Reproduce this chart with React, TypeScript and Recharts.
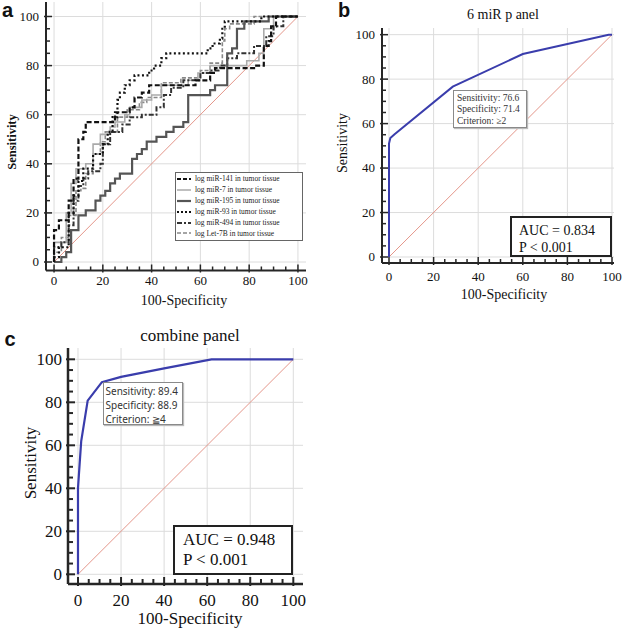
import React from "react";
import { LineChart, Line, XAxis, YAxis, CartesianGrid } from "recharts";

// ROC points: [100-specificity, sensitivity]; panel a curves are step curves
const miR141 = [[0, 0], [0, 13], [2, 17], [6, 25], [8, 34], [10, 50], [12, 53], [13, 57], [25, 61], [31, 63], [33, 67], [36, 69], [39, 72], [58, 74], [64, 77], [66, 79], [82, 80], [86, 88], [88, 90], [89, 96], [91, 100], [100, 100]];
const miR7 = [[0, 0], [0, 8], [5, 20], [7, 32], [9, 38], [13, 40], [16, 48], [19, 52], [23, 55], [25, 57], [29, 60], [31, 63], [36, 66], [40, 68], [44, 72], [55, 74], [59, 77], [64, 80], [79, 82], [84, 85], [86, 95], [90, 100], [100, 100]];
const miR195 = [[0, 0], [3, 2], [5, 4], [7, 13], [10, 19], [13, 21], [17, 25], [19, 27], [21, 29], [23, 32], [25, 34], [27, 36], [32, 42], [34, 44], [36, 46], [38, 49], [42, 51], [46, 53], [49, 55], [53, 57], [55, 68], [64, 70], [66, 72], [71, 85], [73, 87], [75, 95], [78, 98], [88, 100], [100, 100]];
const miR93 = [[0, 0], [0, 2], [2, 6], [6, 20], [8, 27], [10, 33], [12, 38], [16, 44], [20, 48], [22, 53], [24, 59], [26, 66], [27, 69], [29, 72], [31, 74], [33, 76], [39, 78], [41, 80], [44, 83], [46, 85], [63, 87], [65, 89], [68, 91], [69, 95], [70, 98], [85, 100], [100, 100]];
const miR494 = [[0, 0], [0, 6], [3, 8], [6, 15], [8, 25], [10, 31], [12, 34], [14, 37], [19, 40], [20, 48], [23, 53], [28, 56], [31, 59], [36, 60], [42, 63], [45, 68], [48, 71], [53, 74], [60, 77], [64, 78], [68, 80], [71, 83], [75, 85], [82, 88], [87, 92], [90, 96], [94, 100], [100, 100]];
const let7B = [[0, 0], [0, 4], [3, 10], [6, 19], [9, 29], [11, 30], [13, 36], [16, 44], [19, 49], [21, 53], [26, 59], [30, 62], [35, 65], [38, 67], [44, 73], [52, 75], [60, 78], [64, 81], [69, 90], [70, 95], [72, 97], [82, 100], [100, 100]];

const panel6miR = [[0, 0], [0, 51], [0.6, 53.5], [2.5, 55.2], [28.6, 76.6], [60, 91.3], [98.5, 100], [100, 100]];
const panelCombine = [[0, 0], [0, 40], [0.4, 46], [1.5, 62], [4.5, 80.8], [11.1, 89.4], [20, 91.8], [40, 95.8], [62, 100], [100, 100]];
const diagonal = [[0, 0], [100, 100]];

const ticks = [0, 5, 10, 15, 20, 25, 30, 35, 40, 45, 50, 55, 60, 65, 70, 75, 80, 85, 90, 95, 100];
const gridValues = [0, 20, 40, 60, 80, 100];

const legendItems = [
  { name: "log miR-141 in tumor tissue", color: "#111", width: 2.2, dash: "4 2" },
  { name: "log miR-7 in tumor tissue", color: "#aaa", width: 1.5, dash: "" },
  { name: "log miR-195 in tumor tissue", color: "#555", width: 2.2, dash: "" },
  { name: "log miR-93 in tumor tissue", color: "#111", width: 2.2, dash: "2 2" },
  { name: "log miR-494 in tumor tissue", color: "#333", width: 2, dash: "5 2 2 2" },
  { name: "log Let-7B in tumor tissue", color: "#888", width: 1.6, dash: "4 2" },
];

const SERIF = '"Liberation Serif", "Times New Roman", serif';
const SANS = '"Liberation Sans", Arial, sans-serif';
const AXIS = "#262626";
const DIAG = "#e4968a";
const BLUE = "#3a3dac";

const pts = (a: number[][]) => a.map(([x, y]) => ({ x, y }));

// ticks point inward; majors cross the axis line slightly
const makeXTick = (fs: number, gap: number, len: number, sw: number) => (props: any) => {
  const { x, y, payload } = props;
  const major = payload.value % 20 === 0;
  return (
    <g>
      <line x1={x} x2={x} y1={major ? y + 2 : y} y2={y - (major ? len + 2 : len)} stroke={AXIS} strokeWidth={sw} />
      {major && (
        <text x={x} y={y + gap} textAnchor="middle" fontSize={fs} fontFamily={SERIF} fill="#111">
          {payload.value}
        </text>
      )}
    </g>
  );
};

const makeYTick = (fs: number, gap: number, len: number, sw: number) => (props: any) => {
  const { x, y, payload } = props;
  const major = payload.value % 20 === 0;
  return (
    <g>
      <line x1={major ? x - 2 : x} x2={x + (major ? len + 2 : len)} y1={y} y2={y} stroke={AXIS} strokeWidth={sw} />
      {major && (
        <text x={x - gap} y={y + fs * 0.34} textAnchor="end" fontSize={fs} fontFamily={SERIF} fill="#111">
          {payload.value}
        </text>
      )}
    </g>
  );
};

const Txt = ({ x, y, size, rot, bold, family, children }: any) => (
  <div
    style={{
      position: "absolute",
      left: x,
      top: y,
      transform: `translate(-50%, -50%)${rot ? " rotate(-90deg)" : ""}`,
      fontSize: size,
      fontFamily: family || SERIF,
      fontWeight: bold ? "bold" : "normal",
      whiteSpace: "nowrap",
      lineHeight: 1,
      color: "#111",
    }}
  >
    {children}
  </div>
);

const Axes = ({ xDomain, yDomain, fs, xGap, yGap, len, sw, aw }: any) => (
  <>
    <CartesianGrid stroke="#dcdcdc" horizontalValues={gridValues} verticalValues={gridValues} />
    <XAxis
      type="number"
      dataKey="x"
      domain={xDomain}
      ticks={ticks}
      interval={0}
      allowDataOverflow
      tickSize={0}
      tickMargin={0}
      tickLine={false}
      height={30}
      axisLine={{ stroke: AXIS, strokeWidth: aw }}
      tick={makeXTick(fs, xGap, len, sw)}
    />
    <YAxis
      type="number"
      dataKey="y"
      domain={yDomain}
      ticks={ticks}
      interval={0}
      allowDataOverflow
      tickSize={0}
      tickMargin={0}
      tickLine={false}
      width={40}
      axisLine={{ stroke: AXIS, strokeWidth: aw }}
      tick={makeYTick(fs, yGap, len, sw)}
    />
  </>
);

const curve = (data: number[][], color: string, width: number, dash: string, type: any = "stepAfter") => (
  <Line
    data={pts(data)}
    dataKey="y"
    type={type}
    stroke={color}
    strokeWidth={width}
    strokeDasharray={dash || undefined}
    dot={false}
    activeDot={false}
    isAnimationActive={false}
  />
);

const App: React.FC = () => {
  return (
    <div style={{ position: "absolute", left: 0, top: 0, width: 624, height: 629, background: "#fff", fontFamily: SERIF }}>
      {/* panel a */}
      <div style={{ position: "absolute", left: 0, top: 0 }}>
        <LineChart width={310} height={310} margin={{ top: 2, right: 4, left: 6, bottom: 9.5 }}>
          {Axes({ xDomain: [-3.3, 103.3], yDomain: [-3.46, 105.9], fs: 13, xGap: 14, yGap: 7, len: 4, sw: 1.5, aw: 2 })}
          {curve(diagonal, DIAG, 1, "", "linear")}
          {curve(let7B, "#888", 1.6, "4 2")}
          {curve(miR7, "#aaa", 1.6, "")}
          {curve(miR494, "#333", 2, "5 2 2 2")}
          {curve(miR195, "#555", 2.2, "")}
          {curve(miR93, "#111", 2.2, "2 2.5")}
          {curve(miR141, "#111", 2.2, "5 2.5")}
        </LineChart>
      </div>
      <Txt x={7.5} y={9.5} size={20} bold family={SANS}>a</Txt>
      <Txt x={12} y={142} size={12.5} rot bold>Sensitivity</Txt>
      <Txt x={184} y={301} size={14}>100-Specificity</Txt>
      <div
        style={{
          position: "absolute", left: 175, top: 172, width: 128, height: 69, boxSizing: "border-box",
          border: "1px solid #666", background: "#fff", paddingTop: 0.5,
        }}
      >
        {legendItems.map((it) => (
          <div key={it.name} style={{ display: "flex", alignItems: "center", height: 10.9 }}>
            <svg width={14} height={6} style={{ marginLeft: 1, marginRight: 4 }}>
              <line x1={0} x2={14} y1={3} y2={3} stroke={it.color} strokeWidth={it.width} strokeDasharray={it.dash || undefined} />
            </svg>
            <span style={{ fontSize: 7.5, fontFamily: SERIF, color: "#222", whiteSpace: "nowrap" }}>{it.name}</span>
          </div>
        ))}
      </div>

      {/* panel b */}
      <div style={{ position: "absolute", left: 310, top: 0 }}>
        <LineChart width={314} height={310} margin={{ top: 28, right: 10, left: 32, bottom: 17 }}>
          {Axes({ xDomain: [-3.14, 100.9], yDomain: [-2.7, 103], fs: 13, xGap: 18, yGap: 7, len: 4, sw: 1.5, aw: 2 })}
          {curve(diagonal, DIAG, 1, "", "linear")}
          {curve(panel6miR, BLUE, 2, "", "linear")}
        </LineChart>
      </div>
      <Txt x={344} y={10} size={20} bold family={SANS}>b</Txt>
      <Txt x={503} y={15} size={14}>6 miR p anel</Txt>
      <Txt x={343} y={143} size={14} rot>Sensitivity</Txt>
      <Txt x={504} y={295} size={14}>100-Specificity</Txt>
      <div
        style={{
          position: "absolute", left: 453, top: 90, width: 74, height: 38, boxSizing: "border-box",
          border: "1px solid #8a8a8a", background: "#fff", boxShadow: "1px 1px 1px #bbb",
          paddingTop: 1.5, paddingLeft: 3, fontSize: 9.5, lineHeight: "11.5px", color: "#333", fontFamily: SERIF,
        }}
      >
        <div>Sensitivity: 76.6</div>
        <div>Specificity: 71.4</div>
        <div>Criterion: ≥2</div>
      </div>
      <div
        style={{
          position: "absolute", left: 510, top: 216, width: 102, height: 41, boxSizing: "border-box",
          border: "2px solid #222", background: "#fff", paddingTop: 3.5, paddingLeft: 7,
          fontSize: 14, lineHeight: "17px", color: "#111", fontFamily: SERIF,
        }}
      >
        <div>AUC = 0.834</div>
        <div>P &lt; 0.001</div>
      </div>

      {/* panel c */}
      <div style={{ position: "absolute", left: 0, top: 310 }}>
        <LineChart width={310} height={319} margin={{ top: 38, right: 7, left: 28, bottom: 15 }}>
          {Axes({ xDomain: [-4.64, 104.5], yDomain: [-4.51, 105.26], fs: 17, xGap: 22, yGap: 6, len: 5, sw: 2, aw: 2.5 })}
          {curve(diagonal, DIAG, 1, "", "linear")}
          {curve(panelCombine, BLUE, 2.2, "", "linear")}
        </LineChart>
      </div>
      <Txt x={10} y={338.5} size={20} bold family={SANS}>c</Txt>
      <Txt x={190} y={335} size={17}>combine panel</Txt>
      <Txt x={30} y={463} size={17} rot>Sensitivity</Txt>
      <Txt x={190} y={618} size={17}>100-Specificity</Txt>
      <div
        style={{
          position: "absolute", left: 103, top: 382, width: 80, height: 43, boxSizing: "border-box",
          border: "1px solid #8a8a8a", background: "#fff", boxShadow: "1px 1px 1px #bbb",
          paddingTop: 1, paddingLeft: 1.5, fontSize: 10, lineHeight: "14px", color: "#333", fontFamily: '"Noto Sans", sans-serif',
        }}
      >
        <div>Sensitivity: 89.4</div>
        <div>Specificity: 88.9</div>
        <div>Criterion: ≧4</div>
      </div>
      <div
        style={{
          position: "absolute", left: 173, top: 525, width: 120, height: 50, boxSizing: "border-box",
          border: "2px solid #222", background: "#fff", paddingTop: 3, paddingLeft: 8,
          fontSize: 17, lineHeight: "20px", color: "#111", fontFamily: SERIF,
        }}
      >
        <div>AUC = 0.948</div>
        <div>P &lt; 0.001</div>
      </div>
    </div>
  );
};

export default App;
